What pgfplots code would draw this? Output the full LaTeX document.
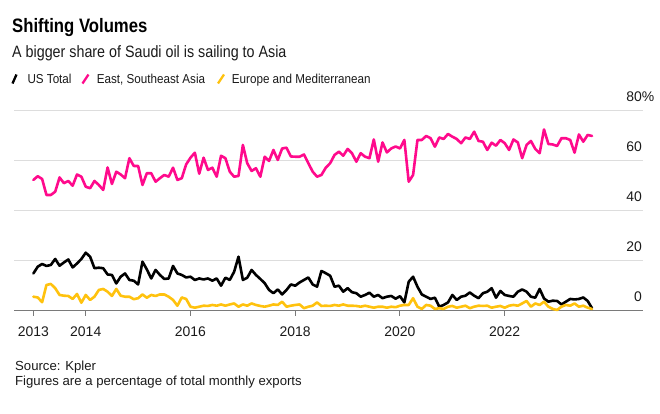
\documentclass[border=0pt]{standalone}
\usepackage{pgfplots}
\pgfplotsset{compat=1.18}
\usepackage{pgfplotstable}
\usepackage{graphicx}
\usepackage{fontspec}
\setmainfont{Liberation Sans}
\definecolor{asia}{HTML}{FF0A8C}
\definecolor{eu}{HTML}{FFC20E}
\definecolor{gridc}{HTML}{DDDDDD}
\definecolor{axc}{HTML}{7A7A7A}
\definecolor{txt}{HTML}{1A1A1A}

\pgfplotstableread{
m us asia eu
0 14.9 52.3 5.6
1 17.6 53.8 5.3
2 18.7 52.7 3.4
3 17.9 46.3 10.3
4 18.3 46.3 10.7
5 20.7 47.6 9.0
6 18.0 53.3 6.3
7 19.3 51.0 6.0
8 20.5 51.9 5.9
9 17.3 50.0 4.7
10 18.9 54.5 6.7
11 20.7 53.6 3.2
12 23.2 49.6 6.3
13 21.6 49.0 4.3
14 17.0 51.9 5.6
15 17.2 50.3 8.3
16 17.0 48.3 8.7
17 14.5 57.3 7.6
18 14.3 50.7 5.9
19 10.9 55.6 8.7
20 13.6 54.5 6.0
21 14.9 53.0 5.6
22 12.3 61.0 5.6
23 12.0 57.9 4.6
24 10.5 57.9 5.0
25 19.6 50.3 6.5
26 16.5 55.0 5.2
27 12.9 55.0 6.3
28 16.3 51.6 5.9
29 14.3 53.0 6.5
30 12.7 54.3 6.5
31 12.9 53.6 5.6
32 17.9 57.2 4.3
33 14.9 52.3 2.0
34 14.3 53.0 5.3
35 13.3 58.5 4.7
36 13.6 61.2 1.6
37 12.3 63.2 1.2
38 12.9 54.8 1.6
39 12.5 61.2 2.0
40 12.9 56.3 1.9
41 12.0 57.2 2.3
42 12.9 53.6 2.0
43 10.0 62.0 2.5
44 13.2 61.0 2.0
45 12.3 55.6 2.5
46 15.6 53.6 2.9
47 21.6 53.9 1.6
48 12.3 66.3 2.5
49 13.2 59.0 2.0
50 16.3 55.9 2.9
51 14.3 57.0 2.3
52 12.7 53.6 1.9
53 11.0 61.6 1.6
54 8.3 59.9 2.0
55 7.0 64.3 2.5
56 8.5 60.3 2.3
57 6.5 64.9 3.6
58 8.3 65.2 1.6
59 10.5 61.7 2.0
60 10.0 61.6 2.3
61 11.3 61.6 2.5
62 12.3 62.5 1.0
63 13.3 59.0 1.6
64 10.5 55.6 2.0
65 9.6 53.6 3.3
66 15.9 54.3 1.9
67 15.0 57.2 2.0
68 14.0 59.0 1.9
69 9.6 62.3 2.3
70 10.0 63.6 2.0
71 7.6 62.0 2.5
72 9.0 64.7 2.0
73 7.4 63.0 2.0
74 7.0 59.6 1.9
75 5.6 63.0 1.6
76 6.3 61.6 2.0
77 7.2 61.0 1.6
78 5.6 68.5 1.2
79 6.3 59.6 1.6
80 5.0 67.3 1.6
81 5.6 63.3 1.2
82 5.9 64.9 1.6
83 4.8 65.7 1.4
84 5.8 64.9 2.0
85 3.3 68.3 2.3
86 11.6 51.6 2.3
87 13.6 54.3 5.0
88 9.6 68.3 1.6
89 6.5 68.3 0.7
90 5.6 69.9 2.3
91 4.7 69.0 2.0
92 5.2 65.6 0.7
93 1.6 69.3 1.0
94 2.3 68.7 0.7
95 3.3 70.7 1.6
96 6.3 69.6 1.9
97 4.3 68.7 1.2
98 5.6 67.0 1.6
99 6.0 69.3 2.0
100 7.3 68.7 1.0
101 6.0 71.6 1.6
102 5.0 67.9 2.0
103 7.0 67.6 1.9
104 7.6 64.3 2.0
105 9.0 67.2 1.2
106 5.2 66.0 1.6
107 7.9 68.3 1.9
108 6.3 67.0 1.2
109 5.9 64.3 2.0
110 5.6 68.5 2.3
111 7.6 67.3 2.0
112 8.5 61.0 2.9
113 7.6 66.3 3.9
114 5.6 67.9 1.6
115 5.2 64.7 2.9
116 8.7 63.0 2.3
117 4.9 72.5 3.6
118 3.6 66.7 1.6
119 4.0 66.5 0.7
120 3.9 65.9 0.3
121 2.5 69.0 1.6
122 3.6 69.0 2.3
123 4.7 68.3 2.0
124 4.5 63.2 2.9
125 4.7 70.5 1.6
126 5.3 67.6 2.0
127 3.9 70.3 1.2
128 1.0 69.9 0.7
}\datatable

\newcommand{\sq}[2]{\scalebox{#1}[1]{#2}}

\begin{document}
\begin{tikzpicture}
\path[use as bounding box] (0bp,0bp) rectangle (660bp,-414bp);
\begin{axis}[
  at={(14bp,-310.7bp)}, anchor=south west,
  scale only axis, width=629bp, height=200bp,
  xmin=2012.63, xmax=2024.64, ymin=0, ymax=80,
  axis x line*=bottom, axis y line*=right,
  x axis line style={draw=axc, line width=1.3bp, -},
  y axis line style={draw=none, -},
  xtick={2013,2014,2016,2018,2020,2022},
  xticklabels={2013,2014,2016,2018,2020,2022},
  x tick style={draw=axc, line width=1bp},
  tick align=outside, major tick length=5bp,
  ytick={0,20,40,60,80},
  yticklabels={0,20,40,60,80\rlap{\%}},
  y tick style={draw=none},
  ymajorgrids, major grid style={draw=gridc, line width=1.2bp},
  xticklabel style={font=\fontsize{14}{14}\selectfont, text=txt, anchor=base, inner sep=0pt, yshift=-20.8bp},
  yticklabel style={font=\fontsize{14}{14}\selectfont, text=txt, anchor=base east, inner sep=0pt, xshift=-6bp, yshift=9bp},
  clip=false,
  every axis plot/.append style={line width=2.6bp, line join=round, line cap=round, no markers},
]
\addplot[black] table[x expr=2013+\thisrow{m}/12, y=us]{\datatable};
\addplot[asia] table[x expr=2013+\thisrow{m}/12, y=asia]{\datatable};
\addplot[eu] table[x expr=2013+\thisrow{m}/12, y=eu]{\datatable};
\end{axis}
\node[anchor=base west, inner sep=0pt, text=black] at (12bp,-32.5bp) {\sq{0.86}{\fontsize{19.5}{19.5}\selectfont\bfseries Shifting Volumes}};
\node[anchor=base west, inner sep=0pt, text=txt] at (12bp,-57.7bp) {\sq{0.87}{\fontsize{16.5}{16.5}\selectfont A bigger share of Saudi oil is sailing to Asia}};
\draw[black, line width=2.3bp] (12.5bp,-83.5bp) -- (16.5bp,-74.5bp);
\node[anchor=base west, inner sep=0pt, text=txt] at (27.3bp,-83.3bp) {\sq{0.9}{\fontsize{13}{13}\selectfont US Total}};
\draw[asia, line width=2.3bp] (82.5bp,-83.5bp) -- (88.5bp,-74.5bp);
\node[anchor=base west, inner sep=0pt, text=txt] at (96.7bp,-83.3bp) {\sq{0.9}{\fontsize{13}{13}\selectfont East, Southeast Asia}};
\draw[eu, line width=2.3bp] (218bp,-83.5bp) -- (224bp,-74.5bp);
\node[anchor=base west, inner sep=0pt, text=txt] at (231.7bp,-83.3bp) {\sq{0.9}{\fontsize{13}{13}\selectfont Europe and Mediterranean}};
\node[anchor=base west, inner sep=0pt, text=txt] at (15bp,-370.7bp) {\fontsize{13.2}{13.2}\selectfont Source: Kpler};
\node[anchor=base west, inner sep=0pt, text=txt] at (15bp,-385.7bp) {\fontsize{13.2}{13.2}\selectfont Figures are a percentage of total monthly exports};
\end{tikzpicture}
\end{document}
